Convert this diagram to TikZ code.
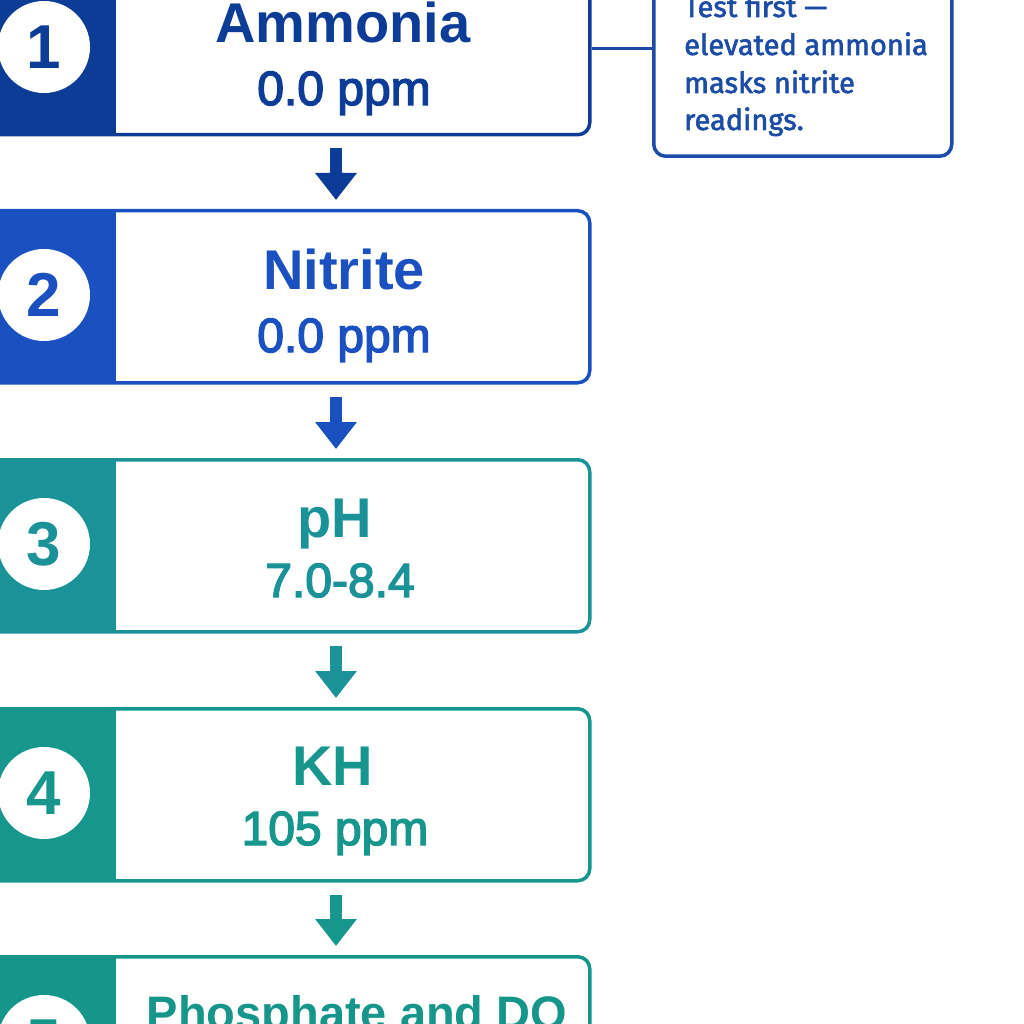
\documentclass[tikz,border=0pt]{standalone}
\usepackage{fontspec}
\setmainfont{Liberation Sans}
\newfontfamily\subfont{Liberation Sans}[FakeBold=3]
\newfontfamily\notefont{Fira Sans}[FakeBold=2]
\usetikzlibrary{arrows.meta}
\definecolor{cA}{RGB}{12,60,150}
\definecolor{cB}{RGB}{26,80,192}
\definecolor{cC}{RGB}{26,146,152}
\definecolor{cD}{RGB}{22,150,140}
\definecolor{cE}{RGB}{22,150,138}
\definecolor{cN}{RGB}{28,76,166}
\tikzset{
  stepbox/.style={draw=#1, fill=white, line width=3.5pt, rounded corners=12pt,
    minimum width=618pt, minimum height=172pt, anchor=north west, inner sep=0pt},
  numdisc/.style={circle, fill=white, minimum size=92pt, inner sep=0pt, text=#1,
    font=\fontsize{62}{62}\selectfont\bfseries},
  titletxt/.style={anchor=base, text=#1, inner sep=0pt, font=\fontsize{56}{56}\selectfont\bfseries},
  subtxt/.style={anchor=base, text=#1, inner sep=0pt, font=\fontsize{48}{48}\subfont},
  notetxt/.style={anchor=base west, text=cN, inner sep=0pt, font=\fontsize{29}{29}\notefont},
  flowarrow/.style={draw=#1, line width=12pt,
    -{Triangle[width=40pt,length=27pt]}, shorten <=12pt, shorten >=9pt}
}
\begin{document}
\begin{tikzpicture}[x=1pt,y=-1pt]
\useasboundingbox (0,0) rectangle (1024,1024);
\fill[white] (0,0) rectangle (1024,1024);

% boxes
\node[stepbox=cA] (b1) at (-30,-39) {};
\node[stepbox=cB] (b2) at (-30,209) {};
\node[stepbox=cC] (b3) at (-30,458) {};
\node[stepbox=cD] (b4) at (-30,707) {};
\node[stepbox=cE] (b5) at (-30,955) {};

% bands
\fill[cA] (-30,-39) rectangle (116,133);
\fill[cB] (-30,209) rectangle (116,381);
\fill[cC] (-30,458) rectangle (116,630);
\fill[cD] (-30,707) rectangle (116,879);
\fill[cE] (-30,955) rectangle (116,1127);

% discs
\node[numdisc=cA] (n1) at (44,47) {1};
\node[numdisc=cB] (n2) at (44,295) {2};
\node[numdisc=cC] (n3) at (44,544) {3};
\node[numdisc=cD] (n4) at (44,793) {4};
\node[numdisc=cE] (n5) at (44,1041) {5};

% titles
\node[titletxt=cA] (t1) at (343,43) {Ammonia};
\node[subtxt=cA] (s1) at (344,105) {0.0 ppm};
\node[titletxt=cB] (t2) at (344,289) {Nitrite};
\node[subtxt=cB] (s2) at (344,352) {0.0 ppm};
\node[titletxt=cC] (t3) at (335,537) {pH};
\node[subtxt=cC] (s3) at (340,597) {7.0-8.4};
\node[titletxt=cD] (t4) at (333,785) {KH};
\node[subtxt=cD] (s4) at (335,845) {105 ppm};
\node[titletxt=cE, font=\fontsize{47}{47}\selectfont\bfseries] (t5) at (357,1029) {Phosphate and DO};

% arrows
\coordinate (ax) at (336,0);
\draw[flowarrow=cA] (b1.south -| ax) -- (b2.north -| ax);
\draw[flowarrow=cB] (b2.south -| ax) -- (b3.north -| ax);
\draw[flowarrow=cC] (b3.south -| ax) -- (b4.north -| ax);
\draw[flowarrow=cD] (b4.south -| ax) -- (b5.north -| ax);

% note
\node[draw=cN, fill=white, line width=3.5pt, rounded corners=12pt, minimum width=298pt,
  minimum height=190pt, anchor=south west, inner sep=0pt] (note) at (652,158) {};
\draw[cN, line width=3.5pt] (b1.east) -- (b1.east -| note.west);
\node[notetxt] (l1) at (684,17) {Test first —};
\node[notetxt] (l2) at (684,55) {elevated ammonia};
\node[notetxt] (l3) at (684,93) {masks nitrite};
\node[notetxt] (l4) at (684,130) {readings.};
\end{tikzpicture}
\end{document}
